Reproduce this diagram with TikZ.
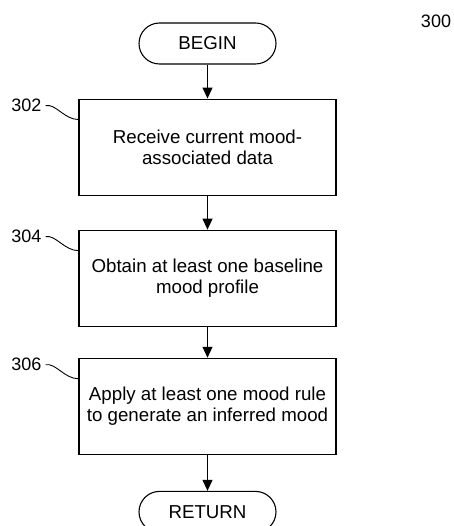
\documentclass[tikz,border=0pt]{standalone}
\usepackage{fontspec}
\setmainfont{Liberation Sans}
\usetikzlibrary{arrows.meta,positioning}
\tikzset{
  term/.style={draw,rounded corners=20.5pt,minimum width=137pt,minimum height=41pt,
    inner sep=0pt,font=\fontsize{18.7}{21}\selectfont,line width=1.1pt},
  stepbox/.style={draw,minimum width=257pt,minimum height=96pt,align=center,
    inner sep=0pt,font=\fontsize{18.7}{21}\selectfont,line width=1.1pt},
  ref/.style={inner sep=0pt,font=\fontsize{18}{21}\selectfont},
  arr/.style={-{Triangle[length=11pt,width=10pt]},line width=1.1pt},
  lead/.style={line width=0.9pt},
}
\begin{document}
\begin{tikzpicture}[x=1pt,y=1pt,node distance=34pt]
\useasboundingbox (0,0) rectangle (453,-526);
\node[ref] (fig) at (436,-21) {300};
\node[term] (begin) at (207.5,-43.5) {BEGIN};
\node[stepbox,below=of begin] (s302) {Receive current mood-\\associated data};
\node[stepbox,below=of s302] (s304) {Obtain at least one baseline\\mood profile};
\node[stepbox,below=31pt of s304] (s306) {Apply at least one mood rule\\to generate an inferred mood};
\node[term,below=36pt of s306] (ret) {RETURN};
\node[ref] (l302) at ([xshift=-52pt,yshift=-7pt]s302.north west) {302};
\node[ref] (l304) at ([xshift=-52pt,yshift=-7pt]s304.north west) {304};
\node[ref] (l306) at ([xshift=-52pt,yshift=-7pt]s306.north west) {306};
\draw[arr] (begin)--(s302); \draw[arr] (s302)--(s304);
\draw[arr] (s304)--(s306); \draw[arr] (s306)--(ret);
\draw[lead] ([xshift=4pt]l302.east) .. controls +(10,2) and +(-14,0) .. ([yshift=-21pt]s302.north west);
\draw[lead] ([xshift=4pt]l304.east) .. controls +(10,2) and +(-14,0) .. ([yshift=-21pt]s304.north west);
\draw[lead] ([xshift=4pt]l306.east) .. controls +(10,2) and +(-14,0) .. ([yshift=-21pt]s306.north west);
\end{tikzpicture}
\end{document}
